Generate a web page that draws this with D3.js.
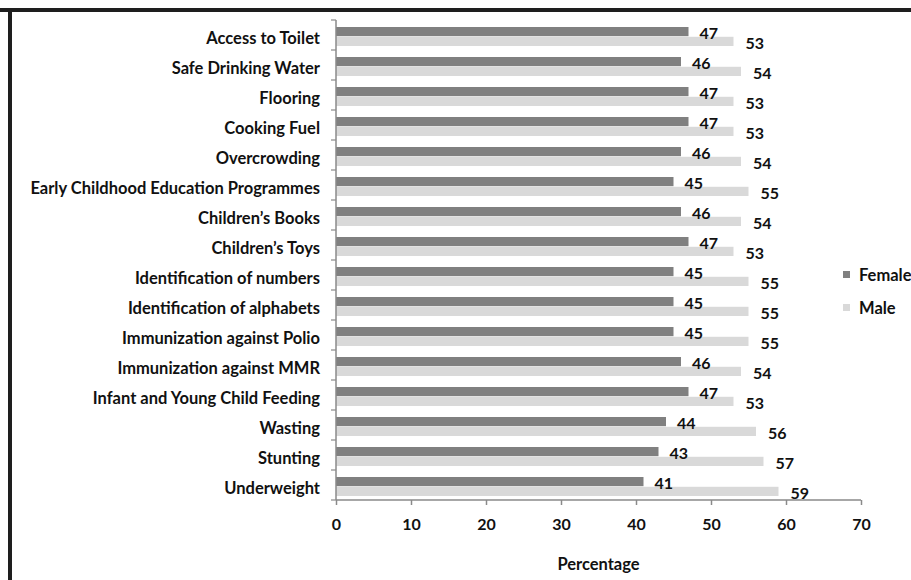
<!DOCTYPE html>
<html>
<head>
<meta charset="utf-8">
<script src="https://cdn.jsdelivr.net/npm/d3@7"></script>
<style>
  body { margin: 0; background: #fff; }
  svg { display: block; }
  text { font-family: Lato, "Open Sans", sans-serif; font-weight: bold; fill: #111; }
</style>
</head>
<body>
<svg width="911" height="580"></svg>
<script>
var categories = ["Access to Toilet", "Safe Drinking Water", "Flooring", "Cooking Fuel",
  "Overcrowding", "Early Childhood Education Programmes", "Children\u2019s Books",
  "Children\u2019s Toys", "Identification of numbers", "Identification of alphabets",
  "Immunization against Polio", "Immunization against MMR", "Infant and Young Child Feeding",
  "Wasting", "Stunting", "Underweight"];
var female = [47, 46, 47, 47, 46, 45, 46, 47, 45, 45, 45, 46, 47, 44, 43, 41];
var male   = [53, 54, 53, 53, 54, 55, 54, 53, 55, 55, 55, 54, 53, 56, 57, 59];
var series = ["Female", "Male"];
var xTicks = [0, 10, 20, 30, 40, 50, 60, 70];

var svg = d3.select("svg"),
    margin = {top: 20, right: 50, bottom: 80, left: 336},
    width = +svg.attr("width") - margin.left - margin.right,
    height = +svg.attr("height") - margin.top - margin.bottom,
    g = svg.append("g").attr("transform", "translate(" + margin.left + "," + margin.top + ")");

var colors = {Female: "#808080", Male: "#d9d9d9"};

// frame lines of the page
svg.append("rect").attr("x", 0).attr("y", 8).attr("width", 911).attr("height", 4).attr("fill", "#1e1e1e");
svg.append("rect").attr("x", 8).attr("y", 10).attr("width", 4).attr("height", 570).attr("fill", "#1e1e1e");

var x = d3.scaleLinear().domain([0, 70]).range([0, 525]);
var y = d3.scaleBand().domain(categories).range([0, height]);
var sub = d3.scaleBand().domain(series).range([7, 26]).paddingInner(0.06);

var rows = g.selectAll(".row").data(categories).enter().append("g")
    .attr("transform", function(d) { return "translate(0," + y(d) + ")"; });

rows.append("rect")
    .attr("y", sub("Female")).attr("height", sub.bandwidth())
    .attr("width", function(d, i) { return x(female[i]); })
    .attr("fill", colors.Female);
rows.append("rect")
    .attr("y", sub("Male")).attr("height", sub.bandwidth())
    .attr("width", function(d, i) { return x(male[i]); })
    .attr("fill", colors.Male);

rows.append("text")
    .attr("x", function(d, i) { return x(female[i]) + 11; })
    .attr("y", 13).attr("dy", "0.35em")
    .style("font-size", "16px")
    .text(function(d, i) { return female[i]; });
rows.append("text")
    .attr("x", function(d, i) { return x(male[i]) + 12; })
    .attr("y", 23).attr("dy", "0.35em")
    .style("font-size", "16px")
    .text(function(d, i) { return male[i]; });

rows.append("text")
    .attr("x", -16).attr("y", 18).attr("dy", "0.35em")
    .attr("text-anchor", "end")
    .style("font-size", "16.5px")
    .text(function(d) { return d; });

// y axis with ticks between categories
g.append("line").attr("x1", 0).attr("x2", 0).attr("y1", 0).attr("y2", height)
    .attr("stroke", "#8a8a8a").attr("stroke-width", 1.5);
g.selectAll(".ytick").data(d3.range(categories.length + 1)).enter().append("line")
    .attr("x1", -5).attr("x2", 0)
    .attr("y1", function(i) { return i * y.step(); })
    .attr("y2", function(i) { return i * y.step(); })
    .attr("stroke", "#8a8a8a").attr("stroke-width", 1.2);

// x axis
var xa = g.append("g")
    .attr("transform", "translate(0," + height + ")")
    .call(d3.axisBottom(x).tickValues(xTicks).tickSize(5).tickPadding(14));
xa.selectAll("path, line").attr("stroke", "#8a8a8a").attr("stroke-width", 1.5);
xa.select(".domain").attr("d", "M0,0H" + x(70));
xa.selectAll("text").style("font-size", "16px").style("font-family", "Lato, sans-serif")
    .attr("fill", "#111");

g.append("text")
    .attr("x", x(35)).attr("y", height + 70)
    .attr("text-anchor", "middle")
    .style("font-size", "16.5px")
    .text("Percentage");

// legend
var leg = svg.append("g").attr("transform", "translate(843,270)");
var li = leg.selectAll("g").data(series).enter().append("g")
    .attr("transform", function(d, i) { return "translate(0," + i * 33 + ")"; });
li.append("rect").attr("width", 7).attr("height", 7).attr("y", 1)
    .attr("fill", function(d) { return colors[d]; });
li.append("text").attr("x", 16).attr("y", 5).attr("dy", "0.35em")
    .style("font-size", "16.5px")
    .text(function(d) { return d; });
</script>
</body>
</html>
